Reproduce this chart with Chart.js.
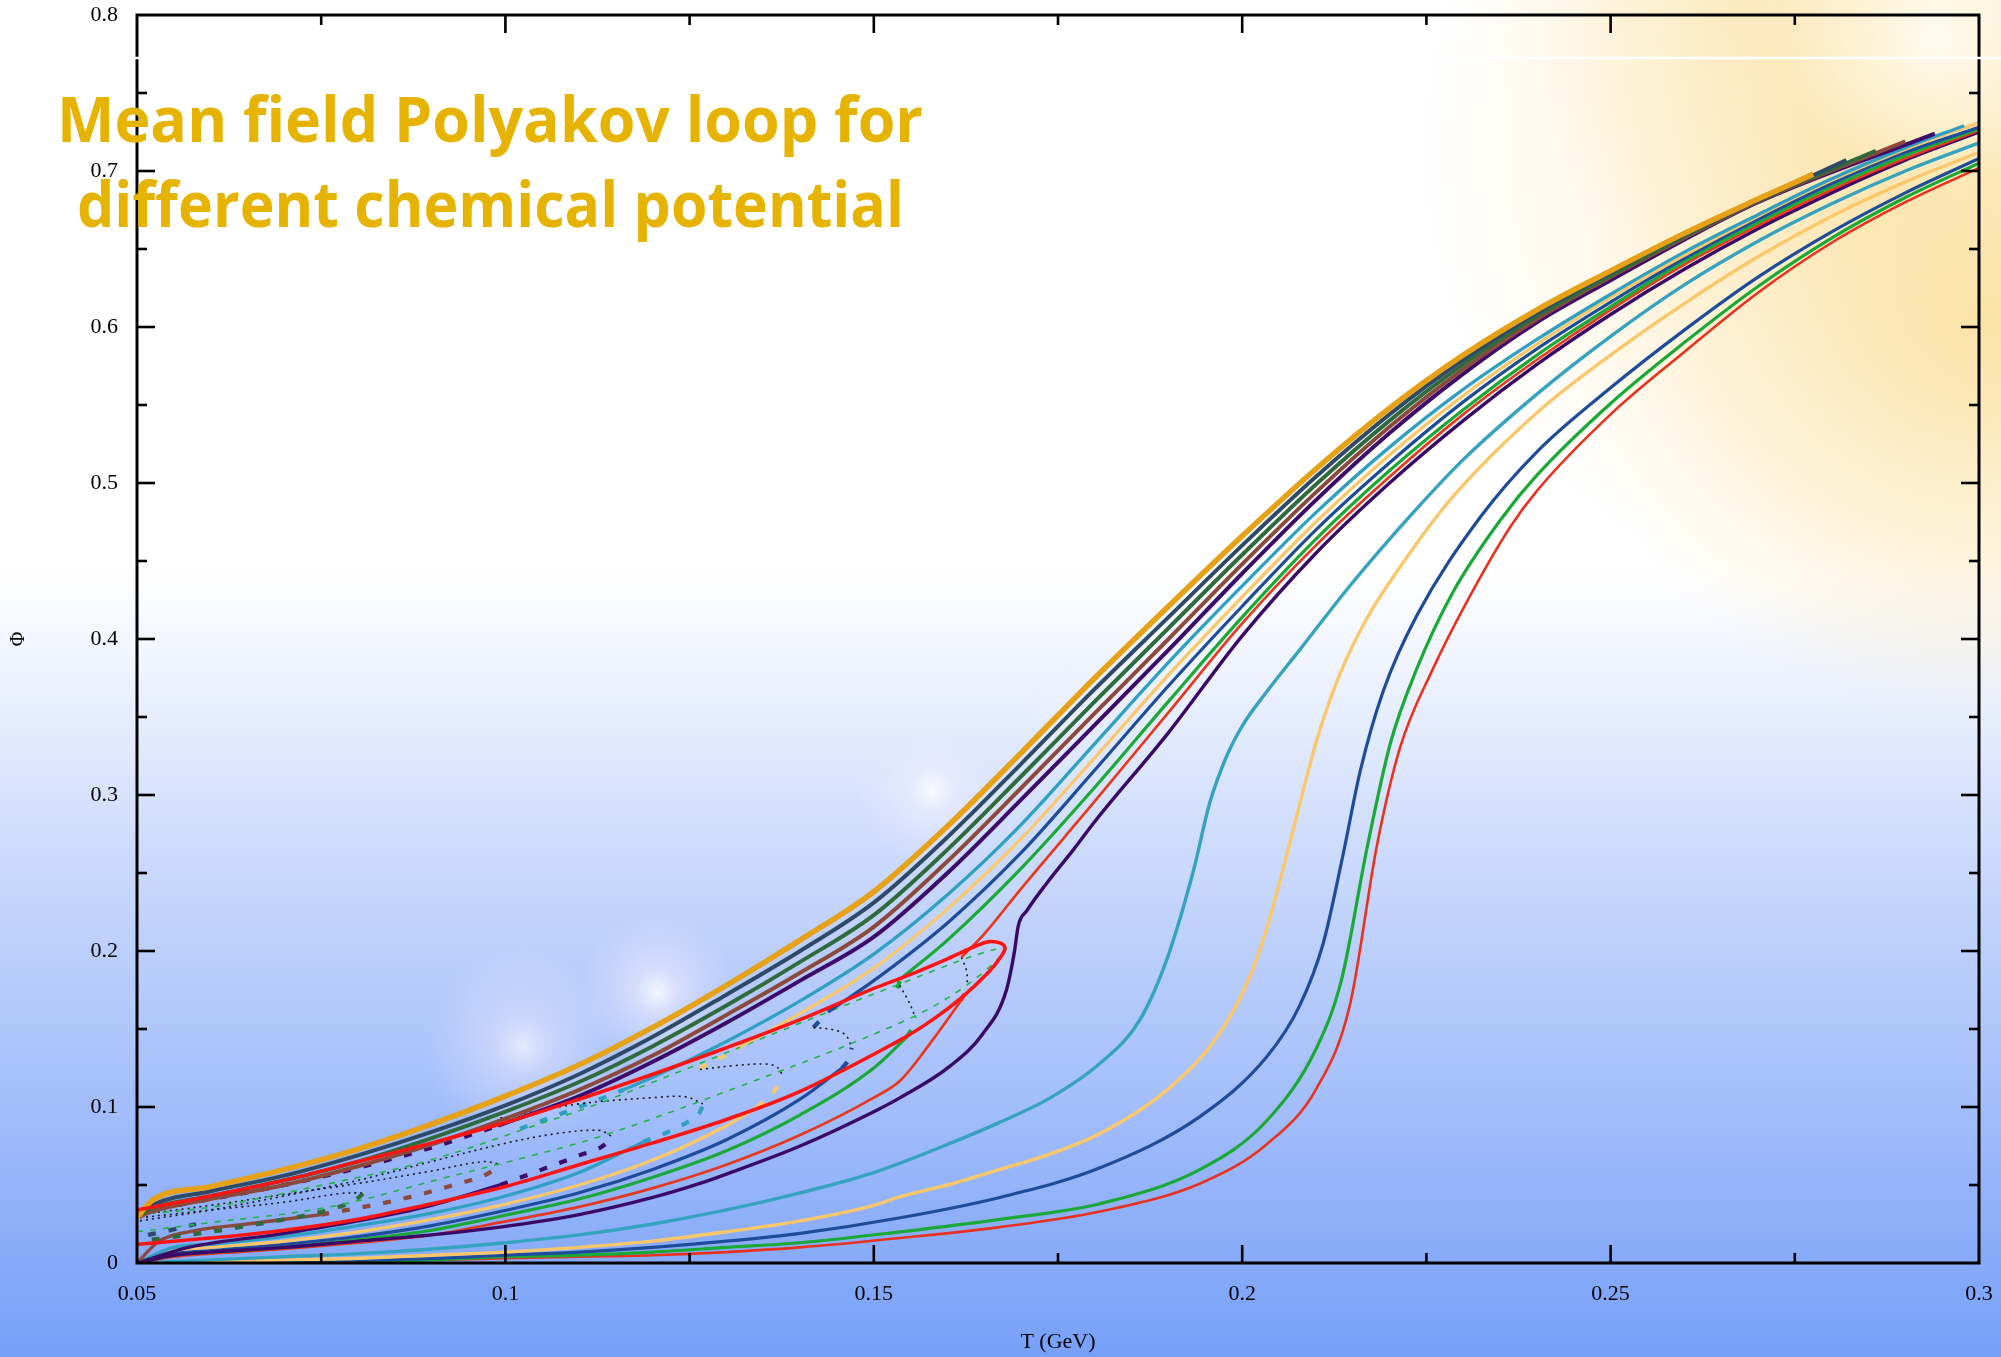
<!DOCTYPE html>
<html>
<head>
<meta charset="utf-8">
<title>Mean field Polyakov loop</title>
<script src="https://cdn.jsdelivr.net/npm/chart.js@4.4.1/dist/chart.umd.min.js"></script>
<style>
  html, body { margin: 0; padding: 0; background: #fff; }
  #wrap { position: relative; width: 2001px; height: 1357px; overflow: hidden; }
  #plot { position: absolute; left: 0; top: 0; }
  .headline {
    position: absolute; display: inline-block; transform-origin: 0 0;
    font-family: "Open Sans", sans-serif; font-weight: 700;
    font-size: 63px; line-height: 64px; color: #e5b300; white-space: nowrap;
  }
</style>
</head>
<body>
<div id="wrap">
  <canvas id="plot" width="2001" height="1357"></canvas>
  <span class="headline" data-w="866" style="left:57px; top:86px">Mean field Polyakov loop for</span>
  <span class="headline" data-w="827" style="left:77px; top:171px">different chemical potential</span>
</div>
<script>
// axis ticks
const tempTicks = [0.05, 0.1, 0.15, 0.2, 0.25, 0.3];
const phiTicks = [0, 0.1, 0.2, 0.3, 0.4, 0.5, 0.6, 0.7, 0.8];

// Phi(T) curves, [T (GeV), Phi] pairs
// crossover bundle
const orangeStable = [[0.05,0.029],[0.052,0.040],[0.06,0.049],[0.07,0.060],[0.08,0.073],[0.09,0.089],[0.10,0.107],[0.11,0.127],[0.12,0.151],[0.13,0.178],[0.14,0.207],[0.15,0.238],[0.16,0.280],[0.17,0.327],[0.18,0.375],[0.19,0.421],[0.20,0.466],[0.21,0.509],[0.22,0.548],[0.23,0.582],[0.24,0.611],[0.25,0.636],[0.26,0.660],[0.27,0.682],[0.2775,0.698]];
const slateStable = [[0.05,0.030],[0.052,0.037],[0.06,0.046],[0.07,0.056],[0.08,0.069],[0.09,0.084],[0.10,0.101],[0.11,0.121],[0.12,0.145],[0.13,0.172],[0.14,0.200],[0.15,0.231],[0.16,0.273],[0.17,0.320],[0.18,0.368],[0.19,0.414],[0.20,0.460],[0.21,0.504],[0.22,0.544],[0.23,0.579],[0.24,0.609],[0.25,0.635],[0.26,0.659],[0.27,0.681],[0.282,0.707]];
const slateLowMeta = [[0.0515,0.018],[0.0545,0.021],[0.058,0.025]];
const forestStable = [[0.05,0.030],[0.052,0.035],[0.06,0.043],[0.07,0.053],[0.08,0.065],[0.09,0.080],[0.10,0.097],[0.11,0.116],[0.12,0.139],[0.13,0.165],[0.14,0.193],[0.15,0.223],[0.16,0.265],[0.17,0.312],[0.18,0.360],[0.19,0.407],[0.20,0.454],[0.21,0.499],[0.22,0.540],[0.23,0.576],[0.24,0.607],[0.25,0.633],[0.26,0.658],[0.27,0.681],[0.286,0.713]];
const forestLowMeta = [[0.052,0.015],[0.06,0.020],[0.07,0.028],[0.076,0.034],[0.0795,0.040],[0.0807,0.0445]];
const brownStable = [[0.05,0.029],[0.052,0.033],[0.06,0.041],[0.07,0.050],[0.08,0.062],[0.09,0.076],[0.10,0.0925],[0.11,0.111],[0.12,0.133],[0.13,0.159],[0.14,0.186],[0.15,0.2155],[0.16,0.2575],[0.17,0.3045],[0.18,0.3525],[0.19,0.400],[0.20,0.448],[0.21,0.494],[0.22,0.536],[0.23,0.573],[0.24,0.605],[0.25,0.632],[0.26,0.657],[0.27,0.6805],[0.29,0.719]];
const brownLowStable = [[0.05,0.0],[0.053,0.014],[0.057,0.020],[0.065,0.025],[0.075,0.031]];
const brownLowMeta = [[0.075,0.031],[0.085,0.040],[0.093,0.050],[0.0975,0.057],[0.0995,0.063]];
const indigoHighMeta = [[0.05,0.0326],[0.06,0.041],[0.07,0.050],[0.08,0.061],[0.09,0.074],[0.099,0.088]];
const indigoStable = [[0.099,0.088],[0.11,0.107],[0.12,0.129],[0.13,0.154],[0.14,0.181],[0.15,0.209],[0.16,0.250],[0.17,0.297],[0.18,0.345],[0.19,0.393],[0.20,0.442],[0.21,0.489],[0.22,0.532],[0.23,0.570],[0.24,0.603],[0.25,0.630],[0.26,0.656],[0.27,0.680],[0.294,0.724]];
const indigoLowStable = [[0.05,0.0],[0.057,0.010],[0.07,0.019],[0.08,0.027],[0.09,0.037],[0.0993,0.050]];
const indigoLowMeta = [[0.0993,0.050],[0.105,0.060],[0.11,0.069],[0.1135,0.076],[0.1145,0.082]];

const cyanLowStable = [[0.05,0.0],[0.055,0.010],[0.06,0.012],[0.07,0.017],[0.08,0.024],[0.09,0.032],[0.0993,0.042],[0.11,0.058],[0.1187,0.0776]];
const cyanLowMeta = [[0.1187,0.0776],[0.1221,0.084],[0.1246,0.090],[0.1262,0.095],[0.1268,0.101]];
const cyanHighMeta = [[0.102,0.086],[0.106,0.093],[0.1115,0.1026],[0.116,0.111]];
const cyanHighStable = [[0.116,0.111],[0.12,0.119],[0.13,0.142],[0.14,0.168],[0.15,0.198],[0.16,0.236],[0.17,0.281],[0.18,0.333],[0.19,0.385],[0.20,0.434],[0.21,0.481],[0.22,0.523],[0.23,0.560],[0.24,0.592],[0.25,0.621],[0.26,0.648],[0.27,0.672],[0.28,0.695],[0.29,0.715],[0.298,0.729]];

const sandLowStable = [[0.05,0.0],[0.055,0.008],[0.06,0.010],[0.07,0.014],[0.08,0.020],[0.09,0.028],[0.0993,0.037],[0.11,0.050],[0.12,0.066],[0.13,0.088],[0.1342,0.100]];
const sandLowMeta = [[0.1342,0.100],[0.1363,0.109],[0.1377,0.119]];
const sandHighMeta = [[0.1264,0.125],[0.129,0.131],[0.1318,0.1385]];
const sandHighStable = [[0.1318,0.1385],[0.14,0.160],[0.15,0.189],[0.16,0.227],[0.17,0.272],[0.18,0.324],[0.19,0.377],[0.20,0.427],[0.21,0.475],[0.22,0.518],[0.23,0.556],[0.24,0.589],[0.25,0.619],[0.26,0.646],[0.27,0.671],[0.28,0.694],[0.29,0.714],[0.30,0.731]];

const navyLowStable = [[0.05,0.0],[0.055,0.006],[0.06,0.008],[0.07,0.012],[0.08,0.017],[0.09,0.024],[0.0993,0.033],[0.11,0.045],[0.12,0.060],[0.13,0.079],[0.14,0.105],[0.1457,0.125]];
const navyLowMeta = [[0.1457,0.125],[0.1466,0.131],[0.147,0.138]];
const navyHighMeta = [[0.1418,0.151],[0.1428,0.156],[0.1438,0.161]];
const navyHighStable = [[0.1438,0.161],[0.15,0.181],[0.16,0.218],[0.17,0.263],[0.18,0.316],[0.19,0.370],[0.20,0.421],[0.21,0.470],[0.22,0.513],[0.23,0.552],[0.24,0.586],[0.25,0.616],[0.26,0.644],[0.27,0.669],[0.28,0.692],[0.29,0.712],[0.30,0.728]];

const leafLowStable = [[0.05,0.0],[0.055,0.005],[0.06,0.007],[0.07,0.010],[0.08,0.015],[0.09,0.021],[0.0993,0.030],[0.11,0.041],[0.12,0.055],[0.13,0.072],[0.14,0.095],[0.15,0.125],[0.1545,0.145]];
const leafLowMeta = [[0.1545,0.145],[0.1552,0.151],[0.1556,0.158]];
const leafHighMeta = [[0.1532,0.176],[0.1536,0.182]];
const leafHighStable = [[0.1536,0.182],[0.16,0.207],[0.17,0.253],[0.18,0.305],[0.19,0.360],[0.20,0.414],[0.21,0.464],[0.22,0.508],[0.23,0.547],[0.24,0.582],[0.25,0.613],[0.26,0.642],[0.27,0.667],[0.28,0.690],[0.29,0.710],[0.30,0.727]];

const vermilionLowStable = [[0.05,0.0],[0.055,0.004],[0.06,0.006],[0.07,0.009],[0.08,0.013],[0.09,0.018],[0.0993,0.026],[0.11,0.036],[0.12,0.048],[0.13,0.063],[0.14,0.082],[0.15,0.106],[0.1536,0.117],[0.158,0.143],[0.1618,0.168]];
const vermilionLowMeta = [[0.1618,0.168],[0.1624,0.174],[0.1627,0.179]];
const vermilionHighStable = [[0.1619,0.196],[0.165,0.211],[0.17,0.240],[0.18,0.296],[0.19,0.353],[0.20,0.410],[0.21,0.460],[0.22,0.504],[0.23,0.544],[0.24,0.579],[0.25,0.611],[0.26,0.640],[0.27,0.665],[0.28,0.688],[0.29,0.708],[0.30,0.726]];

const violetStable = [[0.05,0.0],[0.055,0.005],[0.06,0.007],[0.07,0.010],[0.08,0.014],[0.09,0.018],[0.0993,0.023],[0.11,0.031],[0.12,0.042],[0.1264,0.051],[0.13,0.057],[0.14,0.075],[0.15,0.097],[0.1536,0.106],[0.1603,0.126],[0.1648,0.147],[0.168,0.175],[0.1691,0.200],[0.1696,0.216],[0.1708,0.226],[0.1735,0.2436],[0.1771,0.265],[0.18,0.283],[0.19,0.340],[0.20,0.402],[0.21,0.455],[0.22,0.500],[0.23,0.540],[0.24,0.576],[0.25,0.608],[0.26,0.637],[0.27,0.663],[0.28,0.686],[0.29,0.707],[0.30,0.725]];

// first order curves (late transitions)
const tealSteep = [[0.05,0.0],[0.06,0.002],[0.07,0.004],[0.08,0.006],[0.09,0.009],[0.10,0.013],[0.11,0.018],[0.12,0.025],[0.13,0.034],[0.14,0.045],[0.15,0.058],[0.16,0.076],[0.167,0.090],[0.174,0.106],[0.1807,0.128],[0.186,0.155],[0.1898,0.195],[0.1933,0.250],[0.1956,0.295],[0.1979,0.325],[0.2001,0.345],[0.2033,0.366],[0.2078,0.393],[0.2146,0.434],[0.2232,0.481],[0.23,0.515],[0.24,0.557],[0.25,0.594],[0.26,0.627],[0.27,0.655],[0.28,0.679],[0.29,0.700],[0.30,0.718]];
const sandSteep = [[0.05,0.0],[0.06,0.001],[0.07,0.002],[0.08,0.003],[0.09,0.005],[0.10,0.007],[0.11,0.010],[0.12,0.014],[0.13,0.020],[0.14,0.027],[0.15,0.037],[0.1536,0.0425],[0.16,0.050],[0.1671,0.060],[0.174,0.070],[0.1807,0.083],[0.1898,0.111],[0.1966,0.145],[0.201,0.183],[0.2038,0.222],[0.2065,0.270],[0.2101,0.335],[0.2133,0.378],[0.2169,0.413],[0.2214,0.446],[0.2282,0.489],[0.24,0.545],[0.25,0.582],[0.26,0.615],[0.27,0.645],[0.28,0.671],[0.29,0.693],[0.30,0.712]];
const navySteep = [[0.05,0.0],[0.07,0.001],[0.09,0.003],[0.10,0.005],[0.11,0.007],[0.12,0.010],[0.13,0.014],[0.14,0.019],[0.1536,0.029],[0.1671,0.042],[0.1807,0.061],[0.1943,0.094],[0.2033,0.132],[0.2078,0.165],[0.211,0.205],[0.2137,0.262],[0.216,0.315],[0.2191,0.366],[0.2237,0.415],[0.2323,0.478],[0.24,0.520],[0.25,0.561],[0.26,0.598],[0.27,0.632],[0.28,0.661],[0.29,0.686],[0.30,0.708]];
const leafSteep = [[0.05,0.0],[0.07,0.001],[0.09,0.002],[0.10,0.004],[0.11,0.005],[0.12,0.007],[0.13,0.010],[0.14,0.013],[0.1536,0.020],[0.1671,0.028],[0.1807,0.038],[0.1943,0.060],[0.2033,0.091],[0.2101,0.138],[0.2135,0.182],[0.2169,0.265],[0.2201,0.333],[0.2237,0.381],[0.2286,0.430],[0.235,0.476],[0.24,0.505],[0.25,0.551],[0.26,0.590],[0.27,0.626],[0.28,0.657],[0.29,0.683],[0.30,0.705]];
const redSteep = [[0.05,0.0],[0.07,0.001],[0.09,0.002],[0.10,0.003],[0.11,0.004],[0.12,0.005],[0.13,0.007],[0.14,0.010],[0.1536,0.016],[0.1671,0.023],[0.1807,0.033],[0.1943,0.051],[0.2033,0.076],[0.2101,0.112],[0.2146,0.165],[0.2183,0.268],[0.2214,0.330],[0.2259,0.381],[0.2305,0.424],[0.2364,0.472],[0.24,0.495],[0.25,0.544],[0.26,0.584],[0.27,0.622],[0.28,0.654],[0.29,0.680],[0.30,0.702]];

// closed branches (traced in order)
const redLoop = [[0.05,0.012],[0.06,0.016],[0.07,0.021],[0.08,0.028],[0.09,0.038],[0.10,0.049],[0.11,0.063],[0.12,0.077],[0.13,0.092],[0.14,0.110],[0.1536,0.143],[0.158,0.156],[0.162,0.1705],[0.1655,0.186],[0.1672,0.196],[0.1678,0.202],[0.1672,0.205],[0.1657,0.206],[0.164,0.2035],[0.16,0.195],[0.155,0.185],[0.15,0.176],[0.14,0.156],[0.13,0.138],[0.12,0.121],[0.11,0.105],[0.10,0.090],[0.09,0.077],[0.08,0.065],[0.07,0.053],[0.06,0.043],[0.05,0.034]];
const greenDashLoop = [[0.05,0.020],[0.0595,0.0256],[0.0762,0.036],[0.0917,0.0545],[0.1029,0.068],[0.1128,0.081],[0.13,0.110],[0.1536,0.154],[0.1626,0.178],[0.1678,0.202],[0.1536,0.179],[0.1128,0.1025],[0.1033,0.087],[0.0898,0.066],[0.0762,0.051],[0.0603,0.036],[0.05,0.031]];

// unstable branches
const unstableA = [[0.0504,0.029],[0.06,0.034],[0.07,0.039],[0.0775,0.0445],[0.0805,0.045]];
const unstableB = [[0.0504,0.031],[0.06,0.037],[0.07,0.044],[0.08,0.051],[0.09,0.059],[0.097,0.065],[0.0995,0.063]];
const unstableC = [[0.0504,0.027],[0.06,0.034],[0.07,0.043],[0.08,0.053],[0.09,0.065],[0.0993,0.076],[0.107,0.083],[0.1128,0.085],[0.1145,0.081]];
const unstableD = [[0.0993,0.093],[0.11,0.102],[0.12,0.106],[0.1245,0.1065],[0.1268,0.102]];
const unstableE = [[0.1264,0.124],[0.131,0.1265],[0.1355,0.1275],[0.137,0.125],[0.1377,0.119]];
const unstableF = [[0.1418,0.151],[0.1445,0.1495],[0.1462,0.146],[0.147,0.138]];
const unstableG = [[0.1535,0.178],[0.1547,0.168],[0.1556,0.158]];
const unstableH = [[0.1619,0.196],[0.1626,0.187],[0.1627,0.178]];

const toXY = arr => arr.map(([x, y]) => ({ x, y }));

function solid(data, color, width) {
  return { data: toXY(data), borderColor: color, borderWidth: width, cubicInterpolationMode: 'monotone' };
}
function dashed(data, color, width, dash) {
  return { data: toXY(data), borderColor: color, borderWidth: width, borderDash: dash, cubicInterpolationMode: 'monotone' };
}
function traced(data, color, width, dash) {
  return { data: toXY(data), borderColor: color, borderWidth: width, borderDash: dash || [], tension: 0.35 };
}

const thickDash = [8, 13];
const dotDash = [2, 4];

// first entries are drawn on top
const datasets = [
  traced(redLoop, '#ff1414', 3.6),
  solid(orangeStable, '#e6a117', 5.5),
  solid(slateStable, '#2f4a68', 4),
  solid(forestStable, '#2f6b3d', 4),
  solid(brownStable, '#8b4a3c', 4),
  solid(indigoStable, '#3d0b6b', 4),
  dashed(indigoHighMeta, '#3d0b6b', 4.2, thickDash),
  solid(cyanHighStable, '#2f9fc2', 3.3),
  solid(sandHighStable, '#fbc76b', 3.3),
  solid(navyHighStable, '#1f4b9b', 3.2),
  solid(leafHighStable, '#1aa836', 3.2),
  solid(vermilionHighStable, '#e8371f', 2.7),
  solid(violetStable, '#3a0967', 3.4),
  traced(greenDashLoop, '#22b444', 1.6, [6, 7]),
  traced(unstableA, '#1a1a1a', 1.6, dotDash),
  traced(unstableB, '#1a1a1a', 1.6, dotDash),
  traced(unstableC, '#1a1a1a', 1.6, dotDash),
  traced(unstableD, '#1a1a1a', 1.6, dotDash),
  traced(unstableE, '#1a1a1a', 1.6, dotDash),
  traced(unstableF, '#1a1a1a', 1.6, dotDash),
  traced(unstableG, '#1a1a1a', 1.6, dotDash),
  traced(unstableH, '#1a1a1a', 1.6, dotDash),
  dashed(slateLowMeta, '#2f4a68', 4.2, thickDash),
  dashed(forestLowMeta, '#2f6b3d', 4.2, thickDash),
  dashed(brownLowMeta, '#8b4a3c', 4.2, thickDash),
  dashed(indigoLowMeta, '#3d0b6b', 4.2, thickDash),
  dashed(cyanLowMeta, '#2f9fc2', 4.2, thickDash),
  dashed(cyanHighMeta, '#2f9fc2', 4.2, thickDash),
  dashed(sandLowMeta, '#fbc76b', 4.2, thickDash),
  dashed(sandHighMeta, '#fbc76b', 4.2, thickDash),
  dashed(navyLowMeta, '#1f4b9b', 4.2, thickDash),
  dashed(navyHighMeta, '#1f4b9b', 4.2, thickDash),
  dashed(leafLowMeta, '#1aa836', 4.2, thickDash),
  dashed(leafHighMeta, '#1aa836', 4.2, thickDash),
  dashed(vermilionLowMeta, '#e8371f', 4.2, thickDash),
  solid(brownLowStable, '#8b4a3c', 3.4),
  solid(indigoLowStable, '#3d0b6b', 3.4),
  solid(cyanLowStable, '#2f9fc2', 3.3),
  solid(sandLowStable, '#fbc76b', 3.3),
  solid(navyLowStable, '#1f4b9b', 3.2),
  solid(leafLowStable, '#1aa836', 3.2),
  solid(vermilionLowStable, '#e8371f', 2.7),
  solid(tealSteep, '#35a2bf', 3.4),
  solid(sandSteep, '#fbc76b', 3.4),
  solid(navySteep, '#1f4b9b', 3.2),
  solid(leafSteep, '#1aa836', 3.2),
  solid(redSteep, '#e8321e', 2.6)
];

// sky gradient, warm glow and soft flares behind the plot
const backdrop = {
  id: 'backdrop',
  beforeDraw(chart) {
    const { ctx, width, height } = chart;
    ctx.save();
    const sky = ctx.createLinearGradient(0, 0, 0, height);
    sky.addColorStop(0, '#ffffff');
    sky.addColorStop(0.42, '#ffffff');
    sky.addColorStop(0.5, '#edf2fe');
    sky.addColorStop(0.6, '#d3e0fc');
    sky.addColorStop(0.7, '#bccffb');
    sky.addColorStop(0.8, '#a6c0fa');
    sky.addColorStop(0.9, '#8eaff9');
    sky.addColorStop(1, '#76a0f8');
    ctx.fillStyle = sky;
    ctx.fillRect(0, 0, width, height);

    const glow = (cx, cy, r, stops) => {
      const g = ctx.createRadialGradient(cx, cy, 0, cx, cy, r);
      stops.forEach(([o, c]) => g.addColorStop(o, c));
      ctx.fillStyle = g;
      ctx.fillRect(cx - r, cy - r, 2 * r, 2 * r);
    };
    const warm = a => [[0, `rgba(250,220,145,${a})`], [0.45, `rgba(251,226,165,${a * 0.6})`], [1, 'rgba(252,232,180,0)']];
    glow(1740, 10, 250, warm(0.45));
    glow(1880, 150, 460, warm(0.6));
    glow(1995, 320, 420, warm(0.75));
    glow(1935, 40, 150, [[0, 'rgba(255,253,245,0.85)'], [1, 'rgba(255,250,235,0)']]);

    const flare = a => [[0, `rgba(255,255,255,${a})`], [0.3, `rgba(245,240,255,${a * 0.55})`], [1, 'rgba(235,230,255,0)']];
    glow(523, 1046, 100, flare(0.65));
    glow(657, 992, 78, flare(0.85));
    glow(932, 791, 75, flare(0.85));
    glow(1066, 712, 50, flare(0.4));
    ctx.restore();
  }
};

// boxed frame with inward ticks on all four sides
const frame = {
  id: 'frame',
  afterDraw(chart) {
    const { ctx, chartArea: a, scales: { x, y } } = chart;
    const seg = (x1, y1, x2, y2) => { ctx.beginPath(); ctx.moveTo(x1, y1); ctx.lineTo(x2, y2); ctx.stroke(); };
    ctx.save();
    ctx.strokeStyle = '#000';
    ctx.lineWidth = 2.6;
    x.ticks.forEach(t => {
      const px = x.getPixelForValue(t.value);
      if (px <= a.left + 2 || px >= a.right - 2) return;
      const len = t.label ? 18 : 10;
      seg(px, a.bottom, px, a.bottom - len);
      seg(px, a.top, px, a.top + len);
    });
    y.ticks.forEach(t => {
      const py = y.getPixelForValue(t.value);
      if (py <= a.top + 2 || py >= a.bottom - 2) return;
      const len = t.label ? 18 : 10;
      seg(a.left, py, a.left + len, py);
      seg(a.right, py, a.right - len, py);
    });
    ctx.lineWidth = 3;
    ctx.strokeRect(a.left, a.top, a.right - a.left, a.bottom - a.top);
    // thin white streak across the top of the panel
    ctx.strokeStyle = '#ffffff';
    ctx.lineWidth = 2.5;
    seg(a.left - 3, 58, chart.width, 58);
    ctx.restore();
  }
};

const labelFor = (v, list) => {
  const hit = list.find(t => Math.abs(t - v) < 1e-6);
  return hit === undefined ? '' : String(hit);
};

const serif = '"Liberation Serif", "Times New Roman", serif';

datasets.forEach(d => { d.showLine = true; d.pointRadius = 0; d.borderJoinStyle = 'round'; });

new Chart(document.getElementById('plot'), {
  type: 'scatter',
  data: { datasets },
  options: {
    responsive: false,
    animation: false,
    devicePixelRatio: 1,
    events: [],
    layout: { padding: { left: 0, right: 22, top: 15, bottom: 0 } },
    plugins: { legend: { display: false }, tooltip: { enabled: false } },
    elements: { point: { radius: 0, hoverRadius: 0 } },
    scales: {
      x: {
        type: 'linear', min: 0.05, max: 0.3,
        afterFit: s => { s.height = 94; s.paddingLeft = 0; s.paddingRight = 0; },
        grid: { display: false, drawTicks: false },
        border: { display: false },
        ticks: {
          stepSize: 0.025, autoSkip: false, maxRotation: 0, padding: 18, color: '#000',
          font: { family: serif, size: 22 },
          callback: v => labelFor(v, tempTicks)
        },
        title: { display: true, text: 'T (GeV)', color: '#000', font: { family: serif, size: 22 }, padding: { top: 0, bottom: 2 } }
      },
      y: {
        type: 'linear', min: 0, max: 0.8,
        afterFit: s => { s.width = 137; s.paddingTop = 0; s.paddingBottom = 0; },
        grid: { display: false, drawTicks: false },
        border: { display: false },
        ticks: {
          stepSize: 0.05, autoSkip: false, padding: 19, color: '#000',
          font: { family: serif, size: 22 },
          callback: v => labelFor(v, phiTicks)
        },
        title: { display: true, text: 'Φ', color: '#000', font: { family: serif, size: 20 }, padding: { top: 7, bottom: 0 } }
      }
    }
  },
  plugins: [backdrop, frame]
});

// fit each headline line to its measured span
const fitHeadlines = () => {
  document.querySelectorAll('.headline').forEach(el => {
    el.style.transform = 'none';
    const w = el.getBoundingClientRect().width;
    if (w > 0) el.style.transform = `scaleX(${Number(el.dataset.w) / w})`;
  });
};
fitHeadlines();
if (document.fonts && document.fonts.ready) document.fonts.ready.then(fitHeadlines);
</script>
</body>
</html>
